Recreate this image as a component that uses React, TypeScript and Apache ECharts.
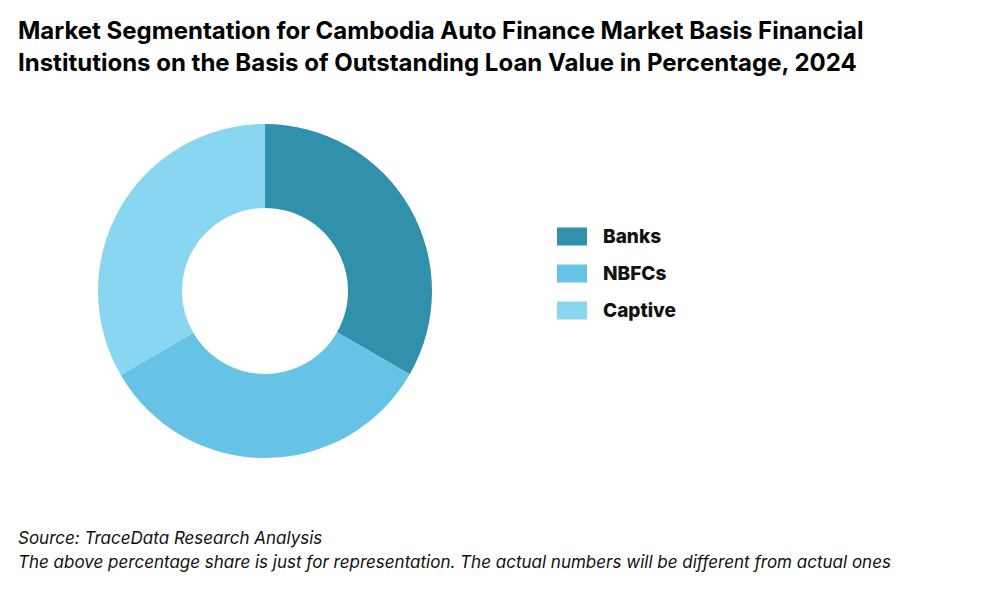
import React, { useEffect, useRef } from "react";
import * as echarts from "echarts";

const categories = ["Banks", "NBFCs", "Captive"];
const shares = [33.3, 33.3, 33.4];
const colors = ["#3191AC", "#66C3E5", "#88D6F0"];
const titleText =
  "Market Segmentation for Cambodia Auto Finance Market Basis Financial\nInstitutions on the Basis of Outstanding Loan Value in Percentage, 2024";
const sourceText =
  "Source: TraceData Research Analysis\nThe above percentage share is just for representation. The actual numbers will be different from actual ones";

export default function App() {
  const ref = useRef<HTMLDivElement>(null);
  useEffect(() => {
    if (!ref.current) return;
    const chart = echarts.init(ref.current, null, { renderer: "svg" });
    chart.setOption({
      animation: false,
      backgroundColor: "#ffffff",
      title: [
        {
          text: titleText,
          left: 18,
          top: 14,
          padding: 0,
          textStyle: {
            fontFamily: "Inter",
            fontWeight: 700,
            fontSize: 24,
            lineHeight: 32,
            color: "#000000",
          },
        },
        {
          text: sourceText,
          left: 18,
          top: 526,
          padding: 0,
          textStyle: {
            fontFamily: "Inter",
            fontStyle: "italic",
            fontWeight: 400,
            fontSize: 17,
            lineHeight: 24,
            color: "#111111",
          },
        },
      ],
      legend: {
        orient: "vertical",
        left: 557,
        top: 227,
        itemWidth: 30,
        itemHeight: 18,
        itemGap: 18,
        icon: "rect",
        padding: 0,
        textStyle: {
          fontFamily: "Inter",
          fontWeight: 800,
          fontSize: 19,
          lineHeight: 19,
          color: "#111111",
          padding: [0, 0, 0, 11],
        },
        data: categories,
      },
      series: [
        {
          type: "pie",
          center: [265, 291],
          radius: [83, 167],
          startAngle: 90,
          clockwise: true,
          label: { show: false },
          labelLine: { show: false },
          emphasis: { disabled: true },
          itemStyle: { borderWidth: 0 },
          data: categories.map((c, i) => ({
            name: c,
            value: shares[i],
            itemStyle: { color: colors[i] },
          })),
        },
      ],
    });
    return () => chart.dispose();
  }, []);
  return (
    <div
      ref={ref}
      style={{ position: "absolute", left: 0, top: 0, width: 1000, height: 600 }}
    />
  );
}
